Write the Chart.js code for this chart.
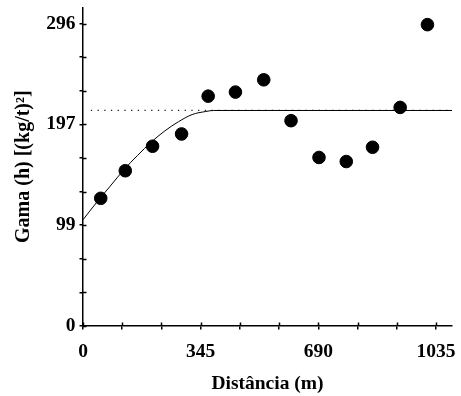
<!DOCTYPE html>
<html>
<head>
<meta charset="utf-8">
<script src="https://cdn.jsdelivr.net/npm/chart.js@4/dist/chart.umd.min.js"></script>
<style>
  html, body { margin: 0; padding: 0; background: #fff; }
  #wrap { width: 461px; height: 396px; position: relative; }
</style>
</head>
<body>
<div id="wrap"><canvas id="c" width="461" height="396"></canvas></div>
<script>
// Experimental semivariogram points (distance m, gamma)
const pointDistances = [52, 124, 204, 289, 367, 447, 530, 610, 692, 772, 849, 930, 1010];
const pointGamma     = [125, 152, 176, 188, 225, 229, 241, 201, 165, 161, 175, 214, 295];

// Fitted model curve
const modelDistances = [0, 40, 80, 120, 160, 200, 240, 280, 320, 360, 383, 1082];
const modelGamma     = [104, 121, 137, 153, 167, 180, 191, 200, 207, 210, 211, 211];

// Sill (dotted reference line)
const sillDistances = [23, 1082];
const sillGamma     = [211, 211];

// Axis ticks
const xTickValues = [0, 115, 230, 345, 460, 575, 690, 805, 920, 1035];
const xTickLabels = ['0', '', '', '345', '', '', '690', '', '', '1035'];
const yTickValues = [0, 32.89, 65.78, 98.67, 131.56, 164.44, 197.33, 230.22, 263.11, 296];
const yTickLabels = ['0', '', '', '99', '', '', '197', '', '', '296'];

const toXY = (xs, ys) => xs.map((x, i) => ({ x: x, y: ys[i] }));

const FONT = '"Liberation Serif", "Times New Roman", serif';

const innerTicks = {
  id: 'innerTicks',
  afterDraw(chart) {
    const ctx = chart.ctx;
    const xs = chart.scales.x, ys = chart.scales.y;
    ctx.save();
    ctx.strokeStyle = '#000';
    ctx.lineWidth = 1.5;
    ctx.beginPath();
    xTickValues.forEach(v => {
      const px = Math.round(xs.getPixelForValue(v)) + 0.5;
      ctx.moveTo(px, ys.bottom);
      ctx.lineTo(px, ys.bottom - 3.5);
    });
    yTickValues.forEach(v => {
      const py = Math.round(ys.getPixelForValue(v)) + 0.5;
      ctx.moveTo(xs.left, py);
      ctx.lineTo(xs.left + 3.5, py);
    });
    ctx.stroke();
    ctx.restore();
  }
};

new Chart(document.getElementById('c'), {
  type: 'scatter',
  data: {
    datasets: [
      {
        label: 'Patamar',
        data: toXY(sillDistances, sillGamma),
        showLine: true,
        borderColor: '#222',
        borderWidth: 1.3,
        borderDash: [1.3, 5.4],
        pointRadius: 0,
        fill: false,
        order: 3
      },
      {
        label: 'Modelo',
        data: toXY(modelDistances, modelGamma),
        showLine: true,
        borderColor: '#000',
        borderWidth: 1,
        cubicInterpolationMode: 'monotone',
        pointRadius: 0,
        fill: false,
        order: 2
      },
      {
        label: 'Semivariância',
        data: toXY(pointDistances, pointGamma),
        showLine: false,
        backgroundColor: '#000',
        borderColor: '#000',
        pointRadius: 6.3,
        pointHoverRadius: 6.3,
        order: 1
      }
    ]
  },
  options: {
    responsive: false,
    animation: false,
    devicePixelRatio: 1,
    layout: { padding: { left: 12, right: 9, top: 7, bottom: 0 } },
    plugins: {
      legend: { display: false },
      tooltip: { enabled: false }
    },
    scales: {
      x: {
        type: 'linear',
        min: 0,
        max: 1082,
        afterBuildTicks: s => { s.ticks = xTickValues.map(v => ({ value: v })); },
        afterFit: s => { s.height = 70; s.paddingLeft = 0; s.paddingRight = 0; },
        ticks: {
          autoSkip: false,
          maxRotation: 0,
          padding: 11,
          color: '#000',
          font: { family: FONT, size: 19.5, weight: 'bold' },
          callback: (v, i) => xTickLabels[i]
        },
        grid: { display: true, drawOnChartArea: false, drawTicks: true, tickLength: 3.5, color: '#000', lineWidth: 1.5 },
        border: { display: true, color: '#000', width: 1.5 },
        title: {
          display: true,
          text: 'Distância (m)',
          color: '#000',
          font: { family: FONT, size: 19.5, weight: 'bold' },
          padding: { top: 0, bottom: 0 }
        }
      },
      y: {
        type: 'linear',
        min: 0,
        max: 312,
        afterBuildTicks: s => { s.ticks = yTickValues.map(v => ({ value: v })); },
        afterFit: s => { s.width = 71; s.paddingTop = 0; s.paddingBottom = 0; },
        ticks: {
          autoSkip: false,
          padding: 4,
          color: '#000',
          font: { family: FONT, size: 19.5, weight: 'bold' },
          callback: (v, i) => yTickLabels[i]
        },
        grid: { display: true, drawOnChartArea: false, drawTicks: true, tickLength: 3.5, color: '#000', lineWidth: 1.5 },
        border: { display: true, color: '#000', width: 1.5 },
        title: {
          display: true,
          text: 'Gama (h) [(kg/t)²]',
          color: '#000',
          font: { family: FONT, size: 20, weight: 'bold' },
          padding: { top: 0, bottom: 0 }
        }
      }
    }
  },
  plugins: [innerTicks]
});
</script>
</body>
</html>
